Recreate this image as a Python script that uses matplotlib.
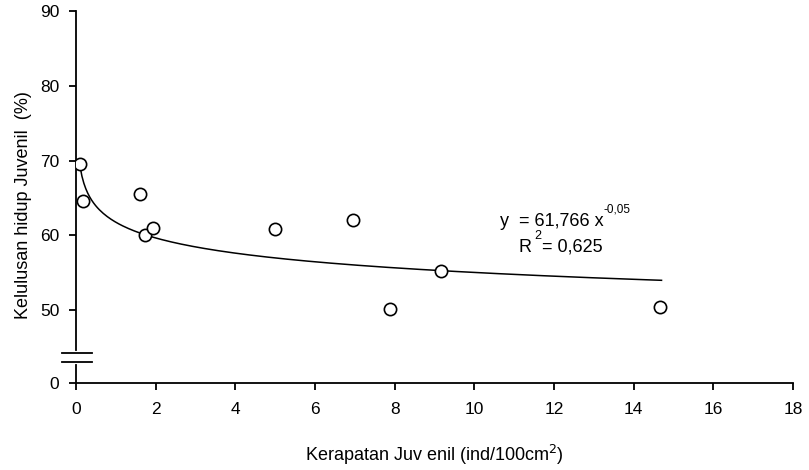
import numpy as np
import matplotlib
matplotlib.use("Agg")
import matplotlib.pyplot as plt
import matplotlib.transforms as mtransforms

plt.rcParams['font.family'] = ['Liberation Sans', 'DejaVu Sans']

# data
density = [0.1, 0.18, 1.6, 1.73, 1.93, 5.0, 6.95, 7.88, 9.16, 14.65]
survival = [69.5, 64.6, 65.5, 60.0, 61.0, 60.9, 62.1, 50.1, 55.3, 50.4]
coef_a = 61.766
coef_b = -0.05
xticks = [0, 2, 4, 6, 8, 10, 12, 14, 16, 18]
y_bottom = 40.27  # value position where the "0" label sits (broken axis)
yticks = [y_bottom, 50, 60, 70, 80, 90]
yticklabels = ['0', '50', '60', '70', '80', '90']

fig = plt.figure(figsize=(8.09, 4.70), dpi=100)
ax = fig.add_axes([0.0939, 0.1851, 0.8863, 0.7915])

xs = np.linspace(0.1, 14.7, 300)
ax.plot(xs, coef_a * xs ** coef_b, color='black', lw=1.1)
ax.scatter(density, survival, s=78, facecolors='white', edgecolors='black',
           linewidths=1.2, zorder=3)

ax.set_xlim(0, 18)
ax.set_ylim(y_bottom, 90)
ax.set_xticks(xticks)
ax.set_yticks(yticks)
ax.set_yticklabels(yticklabels)
ax.spines['top'].set_visible(False)
ax.spines['right'].set_visible(False)
ax.spines['left'].set_bounds(y_bottom, 90)
ax.tick_params(direction='out', length=5, width=1.3, labelsize=12.5)
ax.tick_params(axis='x', pad=9)
ax.tick_params(axis='y', pad=7)
for s in ('left', 'bottom'):
    ax.spines[s].set_linewidth(1.3)

# axis break marks
trans = mtransforms.blended_transform_factory(ax.transAxes, ax.transData)
ax.plot([0, 0], [43.07, 44.27], color='white', lw=3, transform=trans,
        clip_on=False, zorder=4)
for yb in (43.07, 44.27):
    ax.plot([-0.02, 0.022], [yb, yb], color='black', lw=1.3, transform=trans,
            clip_on=False, zorder=5)

ax.set_ylabel('Kelulusan hidup Juvenil  (%)', fontsize=13)
ax.yaxis.set_label_coords(-0.062, 0.478)
ax.set_xlabel('Kerapatan Juv enil (ind/100cm$^{2}$)', fontsize=13, labelpad=18)

ax.text(10.64, 61.2, 'y  = 61,766 x', fontsize=13)
ax.text(13.25, 63.1, '-0,05', fontsize=8.5)
ax.text(11.12, 57.8, 'R', fontsize=13)
ax.text(11.5, 59.5, '2', fontsize=9)
ax.text(11.7, 57.8, '= 0,625', fontsize=13)

fig.savefig('out.png', dpi=100)
